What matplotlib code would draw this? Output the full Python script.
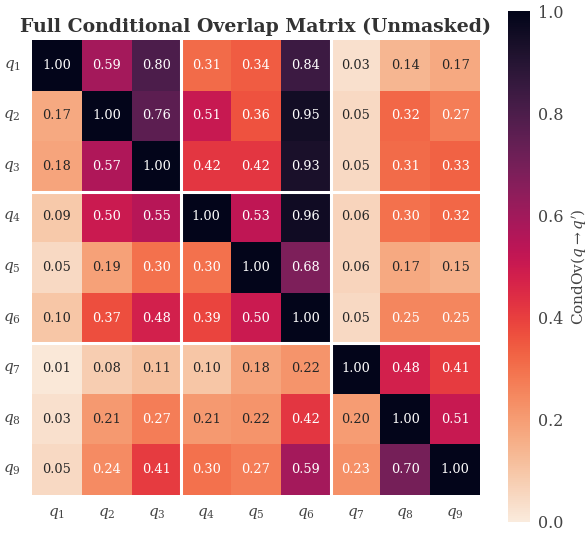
import numpy as np
import matplotlib
matplotlib.use("Agg")
import matplotlib.pyplot as plt
import seaborn as sns

labels = [r"$q_{%d}$" % i for i in range(1, 10)]
row1 = [1.00, 0.59, 0.80, 0.31, 0.34, 0.84, 0.03, 0.14, 0.17]
row2 = [0.17, 1.00, 0.76, 0.51, 0.36, 0.95, 0.05, 0.32, 0.27]
row3 = [0.18, 0.57, 1.00, 0.42, 0.42, 0.93, 0.05, 0.31, 0.33]
row4 = [0.09, 0.50, 0.55, 1.00, 0.53, 0.96, 0.06, 0.30, 0.32]
row5 = [0.05, 0.19, 0.30, 0.30, 1.00, 0.68, 0.06, 0.17, 0.15]
row6 = [0.10, 0.37, 0.48, 0.39, 0.50, 1.00, 0.05, 0.25, 0.25]
row7 = [0.01, 0.08, 0.11, 0.10, 0.18, 0.22, 1.00, 0.48, 0.41]
row8 = [0.03, 0.21, 0.27, 0.21, 0.22, 0.42, 0.20, 1.00, 0.51]
row9 = [0.05, 0.24, 0.41, 0.30, 0.27, 0.59, 0.23, 0.70, 1.00]
block_bounds = [3, 6]

data = np.array([row1, row2, row3, row4, row5, row6, row7, row8, row9])

plt.rcParams['font.family'] = ['DejaVu Serif']
plt.rcParams['mathtext.fontset'] = 'dejavuserif'

W, H = 588, 535
fig = plt.figure(figsize=(W / 100, H / 100), dpi=100)
ax = fig.add_axes([32 / W, 1 - 495 / H, 448 / W, 455 / H])
cax = fig.add_axes([508 / W, 13 / H, 22 / W, 511 / H])

sns.heatmap(data, ax=ax, cbar_ax=cax, cmap="rocket_r", vmin=0, vmax=1,
            annot=True, fmt=".2f", annot_kws={"fontsize": 9.3},
            xticklabels=labels, yticklabels=labels)

for b in block_bounds:
    ax.axhline(b, color="white", lw=2.2)
    ax.axvline(b, color="white", lw=2.2)

ax.tick_params(length=0, labelsize=11, colors="#444444", pad=8)
ax.set_yticklabels(labels, rotation=0)
ax.set_xticklabels(labels, rotation=0)
ax.set_title("Full Conditional Overlap Matrix (Unmasked)", fontsize=13.6,
             fontweight="bold", color="#333333", pad=6)

cax.tick_params(length=0, labelsize=11.5, colors="#444444", pad=6)
cax.set_ylabel(r"CondOv$(q\to q')$", fontsize=11, color="#444444")
for s in cax.spines.values():
    s.set_visible(False)

fig.savefig("out.png", dpi=100)
